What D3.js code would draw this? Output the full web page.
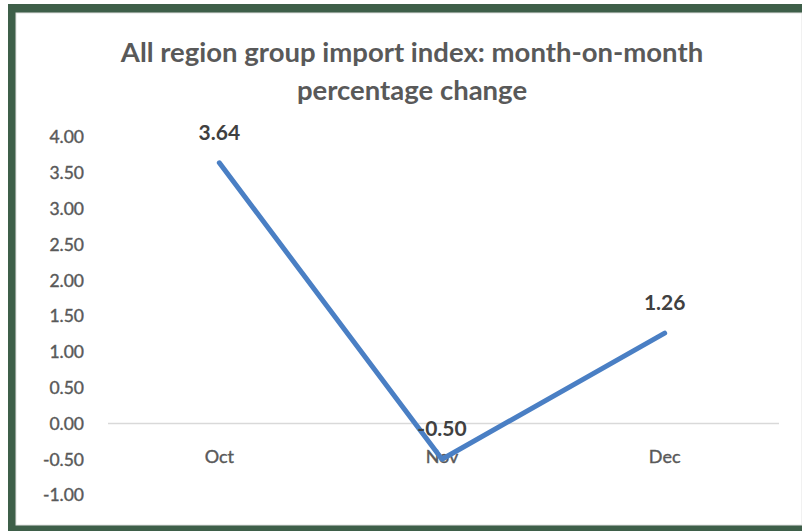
<!DOCTYPE html>
<html>
<head>
<meta charset="utf-8">
<script src="https://cdn.jsdelivr.net/npm/d3@7"></script>
<style>
  body { margin: 0; background: #fff; }
  text { font-family: Lato, "Open Sans", sans-serif; }
</style>
</head>
<body>
<script>
var months = ["Oct", "Nov", "Dec"];
var changes = [3.64, -0.50, 1.26];
var yTicks = [4, 3.5, 3, 2.5, 2, 1.5, 1, 0.5, 0, -0.5, -1];
var titleLines = ["All region group import index: month-on-month", "percentage change"];

var width = 802,
    height = 531;

// plain hyphen instead of d3's unicode minus, like the original
var fmt = function(v){ return d3.format(".2f")(v).replace("\u2212", "-"); };

var svg = d3.select("body").append("svg")
    .attr("width", width)
    .attr("height", height);

// frame
svg.append("rect")
    .attr("x", 8).attr("y", 4)
    .attr("width", width - 8).attr("height", height - 4)
    .attr("fill", "#3e5f49");
svg.append("rect")
    .attr("x", 16).attr("y", 13)
    .attr("width", width - 16).attr("height", 512)
    .attr("fill", "#ffffff")
    .attr("stroke", "#e2e2e2")
    .attr("stroke-width", 1);

var x = d3.scaleBand()
    .domain(months)
    .range([108, 776]);

var y = d3.scaleLinear()
    .domain([-1, 4])
    .range([495, 137]);

svg.selectAll("text.title")
    .data(titleLines).enter()
    .append("text")
    .attr("class", "title")
    .attr("x", 412)
    .attr("y", function(d, i){ return 62 + i * 38; })
    .attr("text-anchor", "middle")
    .attr("font-size", "27.5px")
    .attr("font-weight", "bold")
    .attr("fill", "#595959")
    .text(function(d){ return d; });

// y tick labels (no axis line, no gridlines except zero)
svg.selectAll("text.ytick")
    .data(yTicks).enter()
    .append("text")
    .attr("class", "ytick")
    .attr("x", 84)
    .attr("y", function(d){ return y(d); })
    .attr("dy", "0.36em")
    .attr("text-anchor", "end")
    .attr("font-size", "17.5px")
    .attr("fill", "#595959")
    .attr("stroke", "#595959")
    .attr("stroke-width", 0.4)
    .text(fmt);

svg.append("line")
    .attr("x1", 108).attr("x2", 779)
    .attr("y1", y(0)).attr("y2", y(0))
    .attr("stroke", "#d9d9d9")
    .attr("stroke-width", 1.5);

svg.selectAll("text.xtick")
    .data(months).enter()
    .append("text")
    .attr("class", "xtick")
    .attr("x", function(d){ return x(d) + x.bandwidth() / 2; })
    .attr("y", y(0) + 40)
    .attr("text-anchor", "middle")
    .attr("font-size", "18px")
    .attr("fill", "#595959")
    .attr("stroke", "#595959")
    .attr("stroke-width", 0.4)
    .text(function(d){ return d; });

var line = d3.line()
    .x(function(d, i){ return x(months[i]) + x.bandwidth() / 2; })
    .y(function(d){ return y(d); });

svg.append("path")
    .datum(changes)
    .attr("d", line)
    .attr("fill", "none")
    .attr("stroke", "#4a7fc4")
    .attr("stroke-width", 5)
    .attr("stroke-linecap", "round")
    .attr("stroke-linejoin", "round");

svg.selectAll("text.label")
    .data(changes).enter()
    .append("text")
    .attr("class", "label")
    .attr("x", function(d, i){ return x(months[i]) + x.bandwidth() / 2; })
    .attr("y", function(d){ return y(d) - 23; })
    .attr("text-anchor", "middle")
    .attr("font-size", "21px")
    .attr("font-weight", "bold")
    .attr("fill", "#404040")
    .text(fmt);
</script>
</body>
</html>
